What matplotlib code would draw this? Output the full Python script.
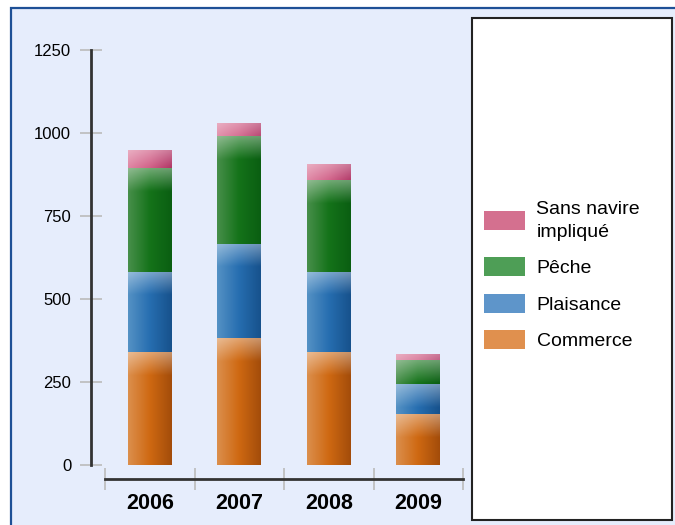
import matplotlib
matplotlib.use("Agg")
import matplotlib.pyplot as plt
from matplotlib.patches import Patch, Rectangle
import numpy as np

plt.rcParams['font.family'] = ['Liberation Sans', 'DejaVu Sans']

# donnees
annees = ["2006", "2007", "2008", "2009"]
commerce = [340, 382, 340, 153]
plaisance = [242, 285, 242, 90]
peche = [313, 325, 277, 72]
sans_navire = [54, 37, 48, 18]
noms = ["Commerce", "Plaisance", "Pêche", "Sans navire\nimpliqué"]

# couleurs : gauche, milieu, droite (degrade horizontal) + couleur legende
teintes = [
    [(0.86, 0.56, 0.30), (0.81, 0.41, 0.07), (0.64, 0.30, 0.04), "#E0904E"],
    [(0.33, 0.57, 0.77), (0.15, 0.43, 0.69), (0.09, 0.32, 0.55), "#5E95CA"],
    [(0.28, 0.56, 0.29), (0.08, 0.45, 0.10), (0.04, 0.37, 0.07), "#4E9E56"],
    [(0.86, 0.47, 0.60), (0.80, 0.31, 0.48), (0.66, 0.12, 0.33), "#D4708F"],
]

PX = 72 / 100  # 1 pixel en points

def degrade(ax, rect, c, hl=70):
    x0, y0 = rect.get_x(), rect.get_y()
    w, h = rect.get_width(), rect.get_height()
    nr, nc = 80, 60
    t = np.linspace(0, 1, nc)
    g, m, d = [np.array(k) for k in c[:3]]
    col = np.where(t[:, None] < 0.5,
                   g + (m - g) * (t[:, None] / 0.5),
                   m + (d - m) * ((t[:, None] - 0.5) / 0.5))
    img = np.repeat(col[None, :, :], nr, axis=0)
    dist = (np.arange(nr) + 0.5) / nr * h
    a = 0.40 * np.clip(1 - dist / hl, 0, 1)
    img = img + (1 - img) * a[:, None, None]
    im = ax.imshow(img, extent=(x0, x0 + w, y0, y0 + h), origin='upper',
                   aspect='auto', interpolation='bilinear', zorder=3)
    im.set_clip_path(rect)

fig = plt.figure(figsize=(6.75, 5.25), dpi=100)
fig.patch.set_facecolor('white')

fond = Rectangle((11 / 675, -0.1), 1.2, (525 - 8) / 525 + 0.1,
                 transform=fig.transFigure, facecolor='#E6EDFC',
                 edgecolor='#1E5096', lw=1.6, zorder=-5)
fig.patches.append(fond)
cadre = Rectangle((472 / 675, 5 / 525), 200 / 675, 502 / 525,
                  transform=fig.transFigure, facecolor='white',
                  edgecolor='#222222', lw=1.5, zorder=-4)
fig.patches.append(cadre)

ax = fig.add_axes([105 / 675, 60 / 525, 358 / 675, 415 / 525])
ax.set_facecolor('none')

x = np.arange(len(annees))
bas = np.zeros(len(annees))
for vals, c in zip([commerce, plaisance, peche, sans_navire], teintes):
    bars = ax.bar(x, vals, width=0.49, bottom=bas, color=c[1], zorder=2)
    for r in bars:
        degrade(ax, r, c)
    bas = bas + np.array(vals)

ax.set_xlim(-0.5, 3.5)
ax.set_ylim(0, 1250)

for s in ['top', 'right']:
    ax.spines[s].set_visible(False)
ax.spines['left'].set_position(('outward', 14.5 * PX))
ax.spines['bottom'].set_position(('outward', 14 * PX))
for s in ['left', 'bottom']:
    ax.spines[s].set_color('#333333')
    ax.spines[s].set_linewidth(2)

ax.set_yticks([0, 250, 500, 750, 1000, 1250])
ax.tick_params(axis='y', direction='inout', length=22 * PX, width=1.2,
               color='#BBBBBB', labelsize=12, pad=6)

ax.set_xticks([-0.5, 0.5, 1.5, 2.5, 3.5])
ax.set_xticklabels([])
ax.set_xticks(x, minor=True)
ax.set_xticklabels(annees, minor=True, fontsize=15.5, fontweight='bold')
ax.tick_params(axis='x', which='major', direction='inout', length=22 * PX,
               width=1.2, color='#BBBBBB')
ax.tick_params(axis='x', which='minor', length=0, pad=10)

poignees = [Patch(facecolor=c[3], edgecolor='none') for c in teintes]
leg = fig.legend(poignees[::-1], noms[::-1], loc='center left',
                 bbox_to_anchor=(484 / 675, 0.475), frameon=False, fontsize=14,
                 handlelength=2.1, handleheight=1.1, handletextpad=0.6,
                 labelspacing=0.85, borderpad=0, borderaxespad=0)
leg.get_texts()[0].set_linespacing(1.45)

fig.savefig("out.png", dpi=100)
